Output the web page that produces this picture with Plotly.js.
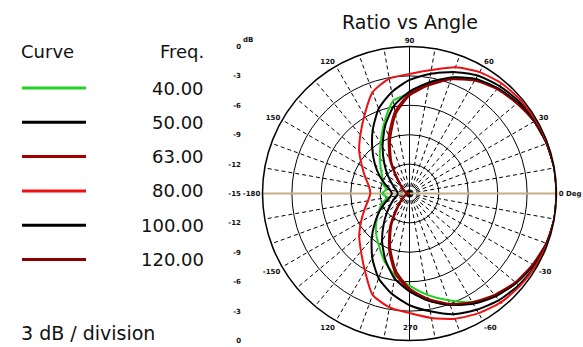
<!DOCTYPE html>
<html>
<head>
<meta charset="utf-8">
<script src="https://cdn.plot.ly/plotly-3.0.1.min.js"></script>
<style>html,body{margin:0;padding:0;background:#fff;}#chart{width:583px;height:347px;}</style>
</head>
<body>
<div id="chart"></div>
<script>
// ---- data ----
const freqs = ["40.00", "50.00", "63.00", "80.00", "100.00", "120.00"];
const colors = ["#22d022", "#000000", "#a00000", "#ee1111", "#000000", "#8b0000"];
const theta = [0,10,20,30,40,50,60,70,80,90,100,110,120,130,140,150,160,170,180,
               190,200,210,220,230,240,250,260,270,280,290,300,310,320,330,340,350,360];
const r40  = [0,0,-0.1,-0.3,-0.6,-1.0,-1.5,-2.4,-3.6,-4.8,-5.4,-7.4,-9.1,-10.3,-11.2,-11.8,-12.1,-12.6,-12.2,
              -12.7,-12.0,-11.4,-10.6,-9.7,-8.8,-7.6,-6.5,-5.6,-4.5,-3.4,-2.2,-1.4,-0.8,-0.4,-0.1,0,0];
const r50  = [0,0,-0.1,-0.2,-0.4,-0.7,-1.1,-1.8,-2.6,-3.4,-4.5,-5.8,-7.5,-9.1,-10.4,-11.5,-12.4,-13.0,-13.2,
              -13.0,-12.4,-11.5,-10.4,-9.0,-7.4,-5.8,-4.6,-3.6,-2.8,-1.9,-1.3,-0.8,-0.45,-0.2,-0.1,0,0];
const r63  = [0,0,-0.1,-0.3,-0.6,-1.0,-1.6,-2.5,-3.6,-4.8,-6.5,-8.8,-11.0,-13.0,-13.9,-14.3,-14.5,-14.7,-14.8,
              -14.7,-14.5,-14.3,-13.8,-12.9,-11.0,-8.9,-6.7,-5.1,-3.9,-2.9,-2.1,-1.4,-0.8,-0.4,-0.1,0,0];
const r80  = [0,0,-0.05,-0.1,-0.2,-0.35,-0.7,-1.3,-2.2,-2.8,-3.1,-4.0,-5.8,-7.2,-8.3,-9.4,-10.2,-10.8,-11.0,
              -10.7,-10.1,-9.3,-8.3,-7.3,-5.9,-4.0,-3.2,-2.8,-2.1,-1.4,-0.9,-0.5,-0.3,-0.15,-0.05,0,0];
const r100 = [0,0,-0.1,-0.3,-0.6,-1.0,-1.5,-2.4,-3.5,-4.6,-5.9,-7.7,-9.5,-11.0,-12.1,-12.9,-13.4,-13.7,-13.8,
              -13.7,-13.3,-12.8,-12.0,-10.9,-9.4,-7.8,-6.2,-5.0,-3.9,-2.9,-2.0,-1.3,-0.8,-0.4,-0.1,0,0];
const r120 = [0,0,-0.1,-0.3,-0.7,-1.1,-1.7,-2.6,-3.8,-5.0,-6.8,-9.2,-11.3,-13.2,-14.0,-14.4,-14.6,-14.8,-14.9,
              -14.8,-14.6,-14.4,-14.0,-13.1,-11.3,-9.2,-7.0,-5.3,-4.1,-3.0,-2.2,-1.5,-0.9,-0.5,-0.15,0,0];
const series = [r40, r50, r63, r80, r100, r120];

const radialTicks = [-15,-12,-9,-6,-3,0];
const angleTickVals = [0,10,20,30,40,50,60,70,80,90,100,110,120,130,140,150,160,170,
                       180,190,200,210,220,230,240,250,260,270,280,290,300,310,320,330,340,350];
const angleLabels = {0:"0 Deg",30:"30",60:"60",90:"90",120:"120",150:"150",180:"-180",
                     210:"-150",240:"120",300:"-60",330:"-30"};
const bottomLabel = "270";
const sideTickVals = [-15,-12,-9,-6,-3,0,3,6,9,12,15];
const sideTickText = ["0","-3","-6","-9","-12","-15","-12","-9","-6","-3","0"];

// ---- layout helpers ----
const W = 583, H = 347;
const px = x => x / W;
const py = y => 1 - y / H;
const FONT = "DejaVu Sans";

const traces = [];
// axis cross lines
traces.push({type:"scatterpolar", r:[0,-15,0], theta:[0,0,180], mode:"lines",
  line:{color:"#c4ae84", width:2}, hoverinfo:"skip", showlegend:false});
traces.push({type:"scatterpolar", r:[0,-15,0], theta:[90,90,270], mode:"lines",
  line:{color:"#000", width:1}, hoverinfo:"skip", showlegend:false});

const order = [0,2,4,5,1,3];
order.forEach(i => {
  traces.push({type:"scatterpolar", r:series[i], theta:theta, mode:"lines",
    name:freqs[i], line:{color:colors[i], width:2, shape:"spline", smoothing:0.6},
    showlegend:false});
});
// empty trace to create the side dB axis
traces.push({type:"scatter", x:[], y:[], xaxis:"x", yaxis:"y", showlegend:false, hoverinfo:"skip"});

const shapes = [], annotations = [];
annotations.push({text:"Curve", x:px(19), y:py(52), xref:"paper", yref:"paper", xanchor:"left", yanchor:"middle",
  showarrow:false, font:{family:FONT, size:18, color:"#111"}});
annotations.push({text:"Freq.", x:px(206), y:py(52), xref:"paper", yref:"paper", xanchor:"right", yanchor:"middle",
  showarrow:false, font:{family:FONT, size:18, color:"#111"}});
freqs.forEach((f, i) => {
  const yy = 88 + i * 34.3;
  shapes.push({type:"line", xref:"paper", yref:"paper", x0:px(22), x1:px(86), y0:py(yy), y1:py(yy),
    line:{color:colors[i], width:3}, layer:"above"});
  annotations.push({text:f, x:px(206), y:py(yy), xref:"paper", yref:"paper", xanchor:"right", yanchor:"middle",
    showarrow:false, font:{family:FONT, size:18, color:"#111"}});
});
annotations.push({text:"3 dB / division", x:px(19), y:py(333), xref:"paper", yref:"paper", xanchor:"left", yanchor:"middle",
  showarrow:false, font:{family:FONT, size:19, color:"#111"}});
annotations.push({text:"dB", x:px(241), y:py(40), xref:"paper", yref:"paper", xanchor:"left", yanchor:"middle",
  showarrow:false, font:{family:FONT, size:7, color:"#111", weight:"bold"}});
annotations.push({text:bottomLabel, x:px(410), y:py(328), xref:"paper", yref:"paper", xanchor:"center", yanchor:"middle",
  showarrow:false, font:{family:FONT, size:7, color:"#111", weight:"bold"}});

const layout = {
  width: W, height: H,
  margin: {l:0, r:0, t:0, b:0},
  paper_bgcolor: "#fff", plot_bgcolor: "rgba(0,0,0,0)",
  showlegend: false,
  title: {text:"Ratio vs Angle", font:{family:FONT, size:19, color:"#111"},
    x: px(410), xanchor:"center", y: py(22), yanchor:"middle", xref:"paper", yref:"paper"},
  polar: {
    domain: {x:[px(409.5-147), px(409.5+147)], y:[py(340.5), py(46.5)]},
    bgcolor: "#fff",
    radialaxis: {range:[-15,0], tickmode:"array", tickvals:radialTicks, showticklabels:false,
      ticks:"", showline:false, gridcolor:"#000", gridwidth:1},
    angularaxis: {rotation:0, direction:"counterclockwise", tickmode:"array", tickvals:angleTickVals,
      ticktext: angleTickVals.map(v => angleLabels[v] || ""), ticks:"",
      showline:true, linecolor:"#000", linewidth:1.5,
      gridcolor:"#000", gridwidth:1, griddash:"4px,3px",
      tickfont:{family:FONT, size:7, color:"#111", weight:"bold"}}
  },
  xaxis: {visible:false, domain:[0,0.4], range:[0,1], fixedrange:true},
  yaxis: {domain:[py(340.5), py(46.5)], range:[-15,15], anchor:"free", position:px(241), side:"left",
    tickmode:"array", tickvals:sideTickVals, ticktext:sideTickText, showgrid:false, zeroline:false,
    showline:false, ticks:"", fixedrange:true,
    tickfont:{family:FONT, size:7, color:"#111", weight:"bold"}},
  shapes: shapes,
  annotations: annotations
};

Plotly.newPlot("chart", traces, layout, {displayModeBar:false, staticPlot:true});
</script>
</body>
</html>
